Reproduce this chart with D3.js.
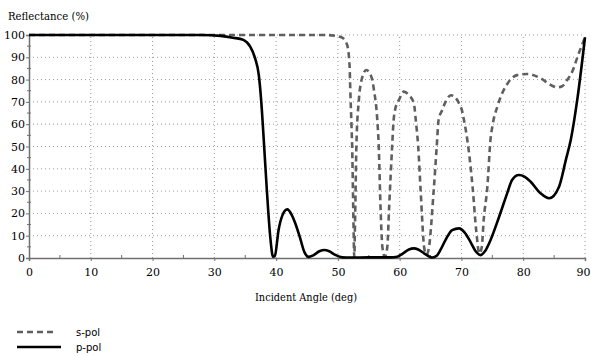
<!DOCTYPE html>
<html>
<head>
<meta charset="utf-8">
<script src="https://cdn.jsdelivr.net/npm/d3@7"></script>
<style>
  body { margin: 0; background: #fff; }
  svg { display: block; }
</style>
</head>
<body>
<div id="chart"></div>
<script>
'use strict';

// values
const sAngle = [0, 10, 20, 30, 40, 48, 49.9, 50.7, 51.5, 51.9, 52.0, 52.2, 52.3, 52.5, 52.65, 52.8, 53.0, 53.4, 53.9, 54.6, 55.5, 55.8, 56.4, 56.6, 56.9, 57.2, 57.6, 58.0, 58.3, 58.8, 59.0, 59.3, 59.9, 60.7, 61.5, 62.3, 62.6, 63.0, 63.4, 64.0, 64.35, 64.7, 65.5, 66.0, 66.3, 66.9, 67.5, 68.3, 69.0, 69.6, 70.1, 70.4, 71.0, 71.8, 72.4, 72.9, 73.3, 73.6, 74.2, 74.7, 75.0, 75.8, 77.4, 79.0, 80.7, 82.8, 84.5, 85.5, 86.3, 87.1, 88.0, 88.8, 90];
const sRefl  = [100, 100, 100, 100, 100, 100, 99.5, 98.8, 95.5, 85.8, 76, 59.6, 51, 20, 0.5, 20, 51, 71, 80.6, 84.3, 80.6, 76, 61, 51, 23, 5, 0.5, 5, 23, 51, 61, 67, 71, 74.6, 73, 69.4, 62, 50, 30, 4, 1.5, 4, 30, 50, 62, 66.4, 70.5, 73, 72, 69.4, 66, 62, 52, 32, 12, 2, 5, 17, 32, 53, 59, 67.8, 78, 82, 82.5, 80.6, 77.5, 76.5, 77, 79.8, 84, 90.3, 99];

const pAngle = [0, 10, 20, 28, 31, 33, 34.7, 35.8, 36.6, 37.2, 37.6, 38.0, 38.5, 39.1, 39.5, 39.8, 40.4, 41.0, 41.8, 42.5, 43.1, 43.9, 44.6, 45.3, 46.0, 47.0, 47.8, 48.6, 49.5, 50.7, 52, 55, 57, 58.5, 59.6, 60.5, 61.5, 62.3, 63.0, 64.0, 65.3, 66.0, 66.6, 67.5, 68.5, 69.6, 70.5, 71.5, 72.3, 73.1, 73.8, 74.7, 76.1, 77.4, 78.2, 79.3, 80.2, 81.2, 82.8, 84.2, 85.8, 86.9, 87.7, 88.8, 90];
const pRefl  = [100, 100, 100, 100, 99.6, 98.8, 97.8, 94.8, 89.5, 82, 70, 53, 30.5, 8, 0.6, 1, 12.6, 19, 21.8, 19.5, 15.6, 8.8, 2.5, 0.5, 1.2, 3, 3.6, 3, 1.5, 0.3, 0.2, 0.3, 0.3, 0.3, 0.6, 2, 3.8, 4.3, 3.8, 2, 0.2, 1, 3.6, 8.5, 12.5, 13.3, 11.5, 7, 3, 1.3, 3, 8, 18.5, 29, 35, 37.2, 36.5, 34.2, 29, 26.8, 32, 44, 53, 72, 99];

const xTicks = [0, 10, 20, 30, 40, 50, 60, 70, 80, 90];
const yTicks = [0, 10, 20, 30, 40, 50, 60, 70, 80, 90, 100];
const xMinor = [5, 15, 25, 35, 45, 55, 65, 75, 85];
const yMinor = [5, 15, 25, 35, 45, 55, 65, 75, 85, 95];

const legendItems = [
  { name: 's-pol', dash: '6,4', color: '#5f5f5f', len: 39 },
  { name: 'p-pol', dash: null, color: '#000', len: 44 }
];

const serif = '"DejaVu Serif", "Liberation Serif", "Noto Serif", serif';
const sans = '"DejaVu Sans", Verdana, sans-serif';

const width = 591, height = 356;
const svg = d3.select('#chart').append('svg').attr('width', width).attr('height', height);

const x = d3.scaleLinear().domain([0, 90]).range([29, 585]);
const y = d3.scaleLinear().domain([0, 100]).range([258, 35]);

// grid
const grid = svg.append('g').attr('class', 'grid');
grid.selectAll('.gx').data(xTicks.slice(1)).enter().append('line')
  .attr('x1', (d) => x(d)).attr('x2', (d) => x(d))
  .attr('y1', y(0)).attr('y2', y(100))
  .attr('stroke', '#9a9a9a').attr('stroke-dasharray', '1,3');
grid.selectAll('.gy').data(yTicks.slice(1)).enter().append('line')
  .attr('x1', x(0)).attr('x2', x(90))
  .attr('y1', (d) => y(d)).attr('y2', (d) => y(d))
  .attr('stroke', '#9a9a9a').attr('stroke-dasharray', '1,3');

// axes
const xAxis = svg.append('g').attr('transform', 'translate(0,' + y(0) + ')')
  .call(d3.axisBottom(x).tickValues(xTicks).tickSize(3).tickPadding(5));
const yAxis = svg.append('g').attr('transform', 'translate(' + x(0) + ',0)')
  .call(d3.axisLeft(y).tickValues(yTicks).tickSize(3).tickPadding(0));
[xAxis, yAxis].forEach(($a) => {
  $a.attr('font-family', null).attr('font-size', null);
  $a.select('.domain').attr('stroke', '#707070').attr('stroke-width', 1.5);
  $a.selectAll('.tick line').attr('stroke', '#707070');
  $a.selectAll('.tick text')
    .style('font-family', serif).style('font-size', '11px').attr('fill', '#000');
});
xAxis.selectAll('.tick text').attr('dy', '0.95em')
  .attr('dx', (d) => d === 90 ? -2 : 0);
yAxis.selectAll('.tick text').attr('dx', '-1');

svg.append('g').selectAll('line').data(xMinor).enter().append('line')
  .attr('x1', (d) => x(d)).attr('x2', (d) => x(d))
  .attr('y1', y(0) - 3).attr('y2', y(0) + 1)
  .attr('stroke', '#707070');
svg.append('g').selectAll('line').data(yMinor).enter().append('line')
  .attr('x1', x(0) - 2).attr('x2', x(0) + 2)
  .attr('y1', (d) => y(d)).attr('y2', (d) => y(d))
  .attr('stroke', '#707070');

// curves
const line = d3.line()
  .x((d) => x(d[0]))
  .y((d) => y(d[1]))
  .curve(d3.curveMonotoneX);

svg.append('path')
  .datum(sAngle.map((a, i) => [a, sRefl[i]]))
  .attr('fill', 'none')
  .attr('stroke', '#5f5f5f')
  .attr('stroke-width', 2.6)
  .attr('stroke-dasharray', '6,4')
  .attr('d', line);

svg.append('path')
  .datum(pAngle.map((a, i) => [a, pRefl[i]]))
  .attr('fill', 'none')
  .attr('stroke', '#000')
  .attr('stroke-width', 2.6)
  .attr('d', line);

// titles
svg.append('text')
  .style('font-family', serif).style('font-size', '11px')
  .attr('x', 8).attr('y', 20)
  .attr('textLength', 81).attr('lengthAdjust', 'spacingAndGlyphs')
  .text('Reflectance (%)');
svg.append('text')
  .style('font-family', serif).style('font-size', '11px')
  .attr('x', 255).attr('y', 301)
  .attr('textLength', 102).attr('lengthAdjust', 'spacingAndGlyphs')
  .text('Incident Angle (deg)');

// legend
const legend = svg.append('g');
legendItems.forEach((d, i) => {
  const ly = 332 + i * 15;
  legend.append('line')
    .attr('x1', 17).attr('x2', 17 + d.len)
    .attr('y1', ly).attr('y2', ly)
    .attr('stroke', d.color).attr('stroke-width', 2.6)
    .attr('stroke-dasharray', d.dash);
  legend.append('text')
    .style('font-family', sans).style('font-size', '10px')
    .attr('x', 76).attr('y', ly + 4).text(d.name);
});
</script>
</body>
</html>
